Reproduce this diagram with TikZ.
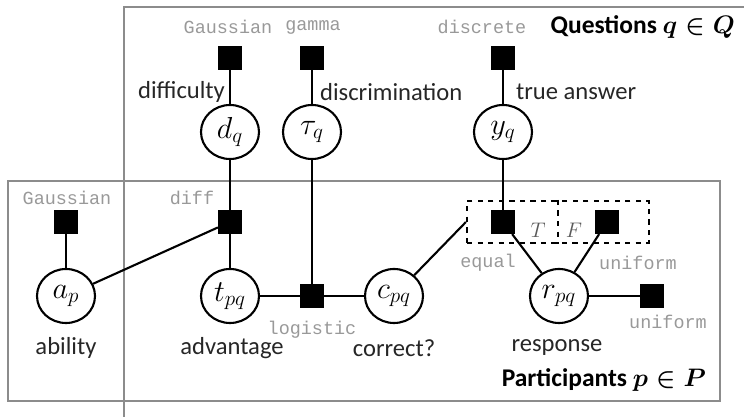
\documentclass[tikz,border=0pt]{standalone}
\usepackage{amsmath,amssymb}
\usepackage{fontspec}
\setmainfont{Carlito}
\setmonofont{Liberation Mono}
\usetikzlibrary{positioning,shapes.geometric}

\begin{document}
\begin{tikzpicture}[
  var/.style={draw, ellipse, line width=1.2pt, minimum width=1.16cm, minimum height=1.08cm, inner sep=0pt, font=\fontsize{16.5}{18}\selectfont},
  fac/.style={draw, fill=black, minimum size=0.47cm, inner sep=0pt},
  lbl/.style={font=\fontsize{14}{16}\selectfont, text=black!85, inner sep=1pt},
  dist/.style={font=\fontsize{10.5}{12}\selectfont\ttfamily, text=black!40, inner sep=1pt},
  plate/.style={draw=black!45, line width=0.9pt},
  edge/.style={line width=1.2pt}]
\clip (0,0) rectangle (14.88,8.34);
\draw[plate] (2.48,8.20) rectangle (15.5,-0.5);
\draw[plate] (0.16,4.72) rectangle (14.40,0.32);
\node[lbl, anchor=east, text=black, font=\fontsize{14.5}{16}\selectfont\bfseries\boldmath] (qtitle) at (14.74,7.80) {Questions $q \in Q$};
\node[lbl, anchor=east, text=black, font=\fontsize{14.5}{16}\selectfont\bfseries\boldmath] (ptitle) at (14.16,0.74) {Participants $p \in P$};
\node[fac] (fd)   at (4.60,7.18) {};
\node[fac] (ftau) at (6.24,7.18) {};
\node[fac] (fy)   at (10.06,7.18) {};
\node[var] (dq)   at (4.60,5.70) {$d_q$};
\node[var] (tau)  at (6.24,5.70) {$\tau_q$};
\node[var] (yq)   at (10.06,5.70) {$y_q$};
\node[fac] (fa)   at (1.32,3.90) {};
\node[fac] (fdiff) at (4.60,3.90) {};
\node[draw, dashed, line width=1.2pt, minimum width=3.64cm, minimum height=0.84cm, inner sep=0pt] (gate) at (11.16,3.90) {};
\draw[dashed, line width=1.2pt] (gate.north) -- (gate.south);
\node[fac] (feq)  at (10.06,3.90) {};
\node[fac] (fun)  at (12.14,3.90) {};
\node[text=black!65, font=\fontsize{11.5}{12}\selectfont] (tT) at (10.76,3.74) {$T$};
\node[text=black!65, font=\fontsize{11.5}{12}\selectfont] (tF) at (11.48,3.74) {$F$};
\node[var] (ap)   at (1.32,2.42) {$a_p$};
\node[var] (tpq)  at (4.60,2.42) {$t_{pq}$};
\node[fac] (flog) at (6.24,2.42) {};
\node[var] (cpq)  at (7.88,2.42) {$c_{pq}$};
\node[var] (rpq)  at (11.18,2.42) {$r_{pq}$};
\node[fac] (fr)   at (13.04,2.42) {};
\foreach \a/\b in {fd/dq, dq/fdiff, ftau/tau, tau/flog, fy/yq, yq/feq, fa/ap, ap/fdiff, fdiff/tpq, tpq/flog, flog/cpq, feq/rpq, fun/rpq, rpq/fr}
  \draw[edge] (\a) -- (\b);
\draw[edge] (cpq) -- (gate.west);
\node[dist] (dgauss) at (4.56,7.80) {Gaussian};
\node[dist] (dgamma) at (6.26,7.80) {gamma};
\node[dist] (ddisc)  at (9.64,7.80) {discrete};
\node[lbl, anchor=east] (ldiff) at (4.54,6.50) {difficulty};
\node[lbl, anchor=west] (ldisc) at (6.36,6.50) {discrimination};
\node[lbl, anchor=west] (ltrue) at (10.28,6.50) {true answer};
\node[dist] (dgauss2) at (1.34,4.38) {Gaussian};
\node[dist] (ddiff)  at (3.84,4.38) {diff};
\node[dist] (dlog)   at (6.24,1.74) {logistic};
\node[dist] (deq)    at (9.76,3.08) {equal};
\node[dist] (dun)    at (12.76,3.08) {uniform};
\node[dist] (dun2)   at (13.36,1.90) {uniform};
\node[lbl] (labil) at (1.32,1.38) {ability};
\node[lbl] (ladv)  at (4.64,1.38) {advantage};
\node[lbl] (lcorr) at (7.88,1.38) {correct?};
\node[lbl] (lresp) at (11.14,1.38) {response};
\end{tikzpicture}
\end{document}
